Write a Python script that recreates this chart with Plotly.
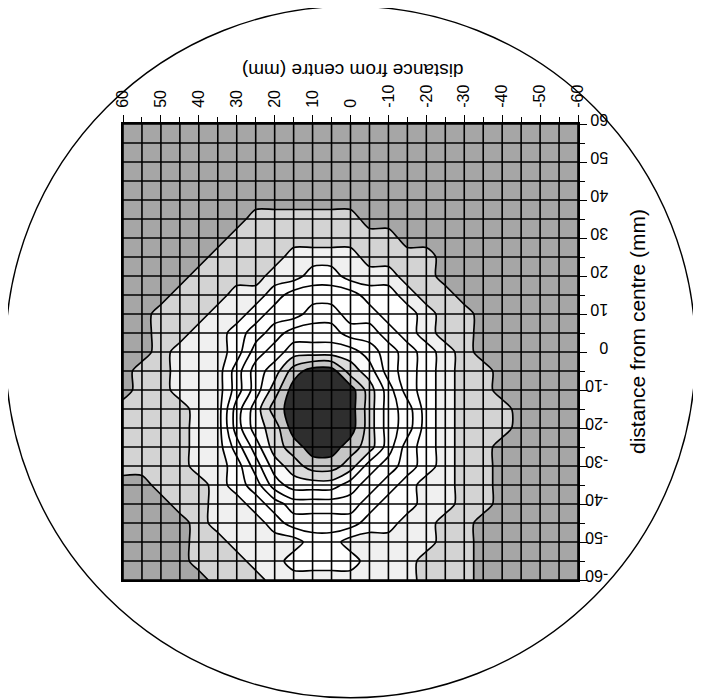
import plotly.graph_objects as go

# grid positions (mm from centre), as displayed: left->right and top->bottom
x_mm = [60, 55, 50, 45, 40, 35, 30, 25, 20, 15, 10, 5, 0, -5, -10, -15, -20, -25, -30, -35, -40, -45, -50, -55, -60]
y_mm = [60, 55, 50, 45, 40, 35, 30, 25, 20, 15, 10, 5, 0, -5, -10, -15, -20, -25, -30, -35, -40, -45, -50, -55, -60]

# contour band read at each grid node (hex digit, A = innermost dark core)
band_rows = [
    "0000000000000000000000000",  # y = 60
    "0000000000000000000000000",  # y = 55
    "0000000000000000000000000",  # y = 50
    "0000000000000000000000000",  # y = 45
    "0000000000000000000000000",  # y = 40
    "0000000111111000000000000",  # y = 35
    "0000001111111110000000000",  # y = 30
    "0000011112222111100000000",  # y = 25
    "0000111122332221100000000",  # y = 20
    "0001112234444332110000000",  # y = 15
    "0011122344554433211000000",  # y = 10
    "0011223456665543211000000",  # y = 5
    "0012223567777654321000000",  # y = 0
    "0112224679AA8754321100000",  # y = -5
    "011222468AAAA864321100000",  # y = -10
    "111122579AAAA865321110000",  # y = -15
    "111122578AAAA865321110000",  # y = -20
    "1111224689AA9864321100000",  # y = -25
    "1111223578998654321100000",  # y = -30
    "0011123467776543221100000",  # y = -35
    "0001122345555433221100000",  # y = -40
    "0000122234444332211000000",  # y = -45
    "0000112222332222211000000",  # y = -50
    "0000111223333222111000000",  # y = -55
    "0000011122222222111000000",  # y = -60
]

tick_major = [60, 50, 40, 30, 20, 10, 0, -10, -20, -30, -40, -50, -60]
grid_mm = x_mm
specimen_radius_mm = 91

band_colors = ["#a6a6a6", "#d3d3d3", "#f0f0f0", "#ffffff", "#ffffff", "#ffffff",
               "#ffffff", "#fbfbfb", "#dadada", "#c6c6c6", "#2e2e2e"]

# ascending order for the trace
xs = x_mm[::-1]
ys = y_mm[::-1]
z = [[int(ch, 16) for ch in row][::-1] for row in band_rows][::-1]

nb = len(band_colors) - 1
colorscale = [[i / nb, c] for i, c in enumerate(band_colors)]

fig = go.Figure(go.Contour(
    x=xs, y=ys, z=z,
    colorscale=colorscale, showscale=False, autocontour=False,
    contours=dict(start=0.5, end=nb - 0.5, size=1, coloring="fill"),
    line=dict(color="black", width=1.7, smoothing=0.8),
    hoverinfo="skip",
))

# grid drawn over the filled contours
for g in grid_mm:
    fig.add_shape(type="line", xref="x", yref="y", x0=g, x1=g, y0=-60, y1=60,
                  line=dict(color="black", width=1.6), layer="above")
    fig.add_shape(type="line", xref="x", yref="y", x0=-60, x1=60, y0=g, y1=g,
                  line=dict(color="black", width=1.6), layer="above")

# specimen outline circle (paper coords from the axis ranges)
fig.add_shape(type="circle", xref="paper", yref="paper",
              x0=(60 - specimen_radius_mm) / 120, x1=(60 + specimen_radius_mm) / 120,
              y0=(60 - specimen_radius_mm) / 120, y1=(60 + specimen_radius_mm) / 120,
              line=dict(color="black", width=1.4))

font_family = "Liberation Sans, Arial, sans-serif"
axis_common = dict(
    tickmode="array", tickvals=tick_major, ticktext=[str(v) for v in tick_major],
    ticks="outside", ticklen=7, tickwidth=1.2, tickcolor="black",
    minor=dict(tickvals=grid_mm, ticks="outside", ticklen=5, tickcolor="black", showgrid=False),
    showgrid=False, zeroline=False, showline=True, linecolor="black", linewidth=2,
    mirror=True, tickfont=dict(family=font_family, size=16, color="black"),
)

fig.update_layout(
    width=701, height=699,
    margin=dict(l=115, r=131, t=116, b=127),
    paper_bgcolor="white", plot_bgcolor="white",
    xaxis=dict(range=[60, -60], side="top", tickangle=-90, ticklabelstandoff=4, **axis_common),
    yaxis=dict(range=[-60, 60], side="right", tickangle=180, ticklabelstandoff=18, **axis_common),
    showlegend=False,
    annotations=[
        dict(text="distance from centre (mm)", xref="paper", yref="paper",
             x=0.505, y=1.117, textangle=180, showarrow=False,
             xanchor="center", yanchor="middle",
             font=dict(family=font_family, size=19, color="black")),
        dict(text="distance from centre (mm)", xref="paper", yref="paper",
             x=1.132, y=0.544, textangle=-90, showarrow=False,
             xanchor="center", yanchor="middle",
             font=dict(family=font_family, size=21, color="black")),
    ],
)

fig.write_html("out.html")
